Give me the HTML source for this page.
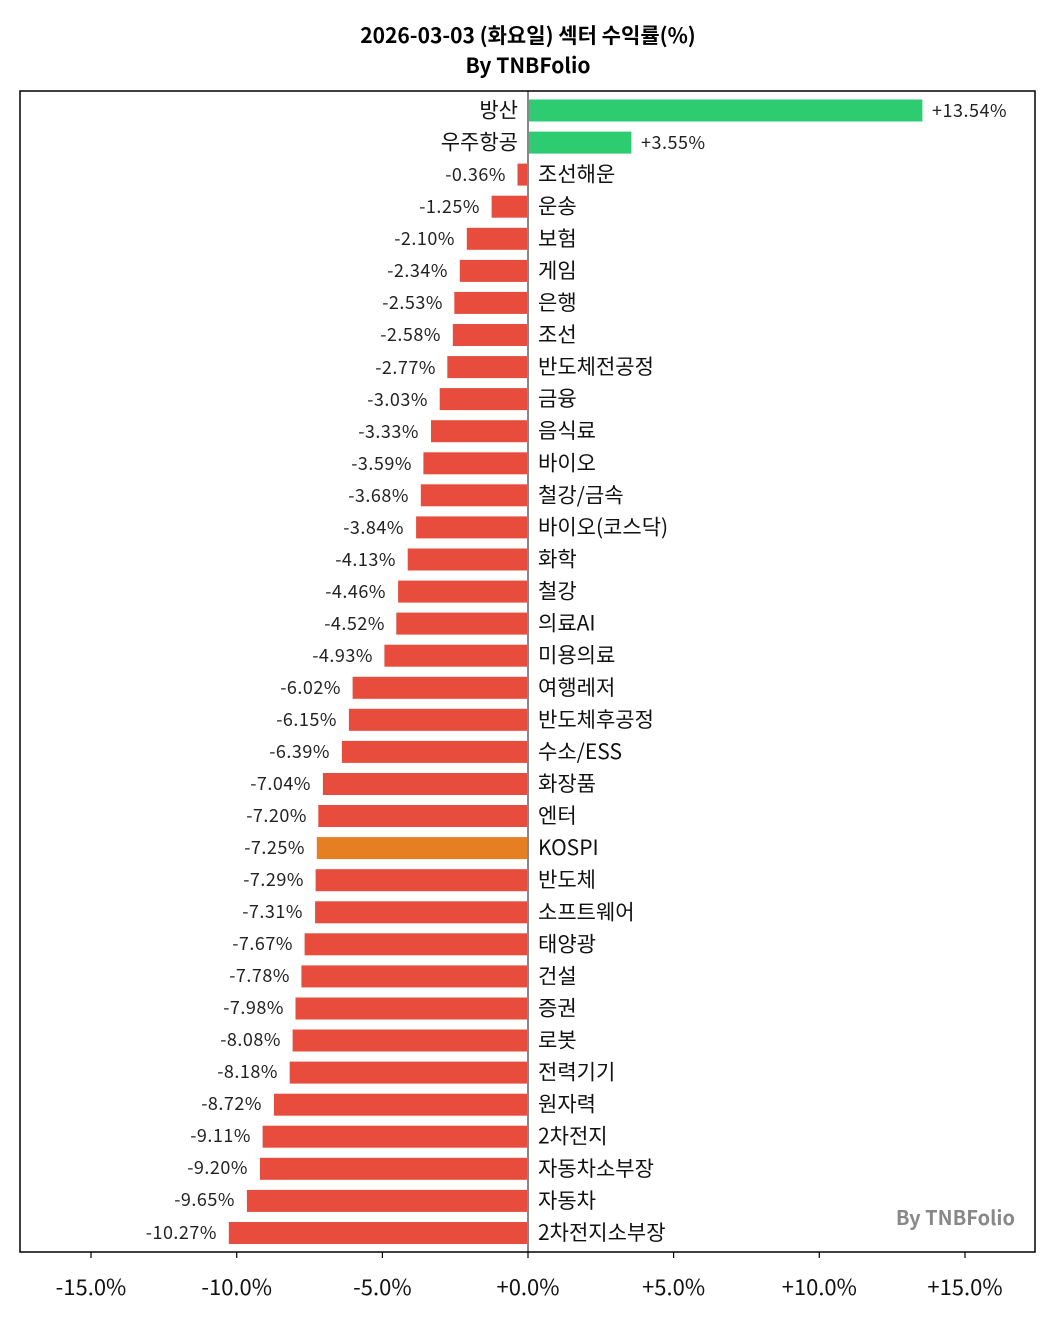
<!DOCTYPE html>
<html><head><meta charset="utf-8"><style>
body{margin:0;background:#fff}
svg text{font-family:"Noto Sans CJK KR","Liberation Sans",sans-serif}
.n{font-size:21px;fill:#111}
.v{font-size:18px;fill:#222;letter-spacing:0.5px}
.t{font-size:22px;fill:#111}
</style></head><body>
<svg width="1055" height="1319" xmlns="http://www.w3.org/2000/svg">
<rect width="1055" height="1319" fill="#fff"/>
<text x="528" y="43" text-anchor="middle" font-size="21" font-weight="bold">2026-03-03 (화요일) 섹터 수익률(%)</text>
<text x="528" y="73" text-anchor="middle" font-size="21" font-weight="bold">By TNBFolio</text>
<g>
<rect x="528" y="99.5" width="394.4" height="22" fill="#2ecc71"/>
<rect x="528" y="131.6" width="103.4" height="22" fill="#2ecc71"/>
<rect x="517.5" y="163.6" width="10.5" height="22" fill="#e74c3c"/>
<rect x="491.6" y="195.7" width="36.4" height="22" fill="#e74c3c"/>
<rect x="466.8" y="227.8" width="61.2" height="22" fill="#e74c3c"/>
<rect x="459.8" y="259.9" width="68.2" height="22" fill="#e74c3c"/>
<rect x="454.3" y="291.9" width="73.7" height="22" fill="#e74c3c"/>
<rect x="452.8" y="324" width="75.2" height="22" fill="#e74c3c"/>
<rect x="447.3" y="356.1" width="80.7" height="22" fill="#e74c3c"/>
<rect x="439.7" y="388.1" width="88.3" height="22" fill="#e74c3c"/>
<rect x="431" y="420.2" width="97" height="22" fill="#e74c3c"/>
<rect x="423.4" y="452.3" width="104.6" height="22" fill="#e74c3c"/>
<rect x="420.8" y="484.3" width="107.2" height="22" fill="#e74c3c"/>
<rect x="416.1" y="516.4" width="111.9" height="22" fill="#e74c3c"/>
<rect x="407.7" y="548.5" width="120.3" height="22" fill="#e74c3c"/>
<rect x="398.1" y="580.6" width="129.9" height="22" fill="#e74c3c"/>
<rect x="396.3" y="612.6" width="131.7" height="22" fill="#e74c3c"/>
<rect x="384.4" y="644.7" width="143.6" height="22" fill="#e74c3c"/>
<rect x="352.6" y="676.8" width="175.4" height="22" fill="#e74c3c"/>
<rect x="348.9" y="708.8" width="179.1" height="22" fill="#e74c3c"/>
<rect x="341.9" y="740.9" width="186.1" height="22" fill="#e74c3c"/>
<rect x="322.9" y="773" width="205.1" height="22" fill="#e74c3c"/>
<rect x="318.3" y="805" width="209.7" height="22" fill="#e74c3c"/>
<rect x="316.8" y="837.1" width="211.2" height="22" fill="#e67e22"/>
<rect x="315.6" y="869.2" width="212.4" height="22" fill="#e74c3c"/>
<rect x="315.1" y="901.3" width="212.9" height="22" fill="#e74c3c"/>
<rect x="304.6" y="933.3" width="223.4" height="22" fill="#e74c3c"/>
<rect x="301.4" y="965.4" width="226.6" height="22" fill="#e74c3c"/>
<rect x="295.5" y="997.5" width="232.5" height="22" fill="#e74c3c"/>
<rect x="292.6" y="1029.5" width="235.4" height="22" fill="#e74c3c"/>
<rect x="289.7" y="1061.6" width="238.3" height="22" fill="#e74c3c"/>
<rect x="274" y="1093.7" width="254" height="22" fill="#e74c3c"/>
<rect x="262.6" y="1125.7" width="265.4" height="22" fill="#e74c3c"/>
<rect x="260" y="1157.8" width="268" height="22" fill="#e74c3c"/>
<rect x="246.9" y="1189.9" width="281.1" height="22" fill="#e74c3c"/>
<rect x="228.8" y="1222" width="299.2" height="22" fill="#e74c3c"/>
</g>
<line x1="528" y1="91" x2="528" y2="1252" stroke="#888" stroke-width="2"/>
<g class="n">
<text x="518" y="117.5" text-anchor="end">방산</text>
<text x="518" y="149.6" text-anchor="end">우주항공</text>
<text x="538" y="181.6">조선해운</text>
<text x="538" y="213.7">운송</text>
<text x="538" y="245.8">보험</text>
<text x="538" y="277.9">게임</text>
<text x="538" y="309.9">은행</text>
<text x="538" y="342">조선</text>
<text x="538" y="374.1">반도체전공정</text>
<text x="538" y="406.1">금융</text>
<text x="538" y="438.2">음식료</text>
<text x="538" y="470.3">바이오</text>
<text x="538" y="502.3">철강/금속</text>
<text x="538" y="534.4">바이오(코스닥)</text>
<text x="538" y="566.5">화학</text>
<text x="538" y="598.6">철강</text>
<text x="538" y="630.6">의료AI</text>
<text x="538" y="662.7">미용의료</text>
<text x="538" y="694.8">여행레저</text>
<text x="538" y="726.8">반도체후공정</text>
<text x="538" y="758.9">수소/ESS</text>
<text x="538" y="791">화장품</text>
<text x="538" y="823">엔터</text>
<text x="538" y="855.1">KOSPI</text>
<text x="538" y="887.2">반도체</text>
<text x="538" y="919.3">소프트웨어</text>
<text x="538" y="951.3">태양광</text>
<text x="538" y="983.4">건설</text>
<text x="538" y="1015.5">증권</text>
<text x="538" y="1047.5">로봇</text>
<text x="538" y="1079.6">전력기기</text>
<text x="538" y="1111.7">원자력</text>
<text x="538" y="1143.7">2차전지</text>
<text x="538" y="1175.8">자동차소부장</text>
<text x="538" y="1207.9">자동차</text>
<text x="538" y="1240">2차전지소부장</text>
</g>
<g class="v" text-anchor="end">
<text x="932" y="117" text-anchor="start">+13.54%</text>
<text x="641" y="149" text-anchor="start">+3.55%</text>
<text x="506" y="181">-0.36%</text>
<text x="480" y="213">-1.25%</text>
<text x="455" y="245">-2.10%</text>
<text x="448" y="277">-2.34%</text>
<text x="443" y="309">-2.53%</text>
<text x="441" y="341">-2.58%</text>
<text x="436" y="374">-2.77%</text>
<text x="428" y="406">-3.03%</text>
<text x="419" y="438">-3.33%</text>
<text x="412" y="470">-3.59%</text>
<text x="409" y="502">-3.68%</text>
<text x="404" y="534">-3.84%</text>
<text x="396" y="566">-4.13%</text>
<text x="386" y="598">-4.46%</text>
<text x="385" y="630">-4.52%</text>
<text x="373" y="662">-4.93%</text>
<text x="341" y="694">-6.02%</text>
<text x="337" y="726">-6.15%</text>
<text x="330" y="758">-6.39%</text>
<text x="311" y="790">-7.04%</text>
<text x="307" y="822">-7.20%</text>
<text x="305" y="854">-7.25%</text>
<text x="304" y="886">-7.29%</text>
<text x="303" y="918">-7.31%</text>
<text x="293" y="950">-7.67%</text>
<text x="290" y="982">-7.78%</text>
<text x="284" y="1014">-7.98%</text>
<text x="281" y="1046">-8.08%</text>
<text x="278" y="1078">-8.18%</text>
<text x="262" y="1110">-8.72%</text>
<text x="251" y="1142">-9.11%</text>
<text x="248" y="1174">-9.20%</text>
<text x="235" y="1206">-9.65%</text>
<text x="217" y="1239">-10.27%</text>
</g>
<text x="1015" y="1225" text-anchor="end" font-size="20" font-weight="bold" fill="#888">By TNBFolio</text>
<rect x="20" y="91" width="1015" height="1161" fill="none" stroke="#000" stroke-width="1.5"/>
<g stroke="#000" stroke-width="1.2">
<line x1="91" y1="1252" x2="91" y2="1258"/><line x1="236.7" y1="1252" x2="236.7" y2="1258"/>
<line x1="382.4" y1="1252" x2="382.4" y2="1258"/><line x1="528" y1="1252" x2="528" y2="1258"/>
<line x1="673.6" y1="1252" x2="673.6" y2="1258"/><line x1="819.3" y1="1252" x2="819.3" y2="1258"/>
<line x1="965" y1="1252" x2="965" y2="1258"/>
</g>
<g class="t" text-anchor="middle">
<text x="91" y="1295">-15.0%</text><text x="236.7" y="1295">-10.0%</text>
<text x="382.4" y="1295">-5.0%</text><text x="528" y="1295">+0.0%</text>
<text x="673.6" y="1295">+5.0%</text><text x="819.3" y="1295">+10.0%</text>
<text x="965" y="1295">+15.0%</text>
</g>
</svg>
</body></html>
